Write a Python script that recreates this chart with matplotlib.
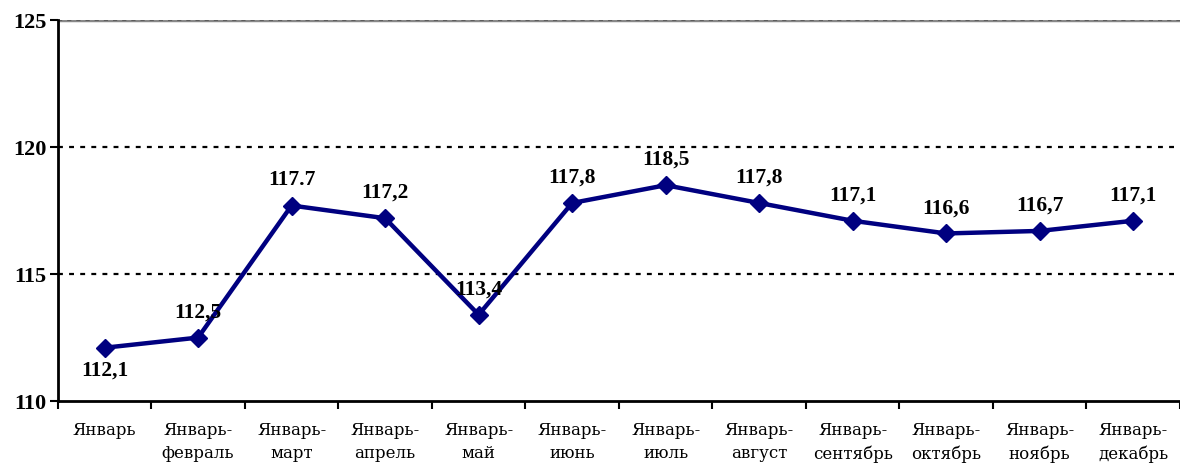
import numpy as np
import matplotlib.pyplot as plt

# Данные
months = ["Январь", "Январь-\nфевраль", "Январь-\nмарт", "Январь-\nапрель", "Январь-\nмай",
          "Январь-\nиюнь", "Январь-\nиюль", "Январь-\nавгуст", "Январь-\nсентябрь",
          "Январь-\nоктябрь", "Январь-\nноябрь", "Январь-\nдекабрь"]
values = [112.1, 112.5, 117.7, 117.2, 113.4, 117.8, 118.5, 117.8, 117.1, 116.6, 116.7, 117.1]
labels = ["112,1", "112,5", "117.7", "117,2", "113,4", "117,8", "118,5", "117,8",
          "117,1", "116,6", "116,7", "117,1"]

plt.rcParams['font.family'] = ['Liberation Serif', 'DejaVu Serif']

fig = plt.figure(figsize=(11.8, 4.68), dpi=100)
ax = fig.add_axes([0.049, 0.143, 0.951, 0.814])

x = np.arange(len(months))

# Сетка
for yv in [115, 120]:
    ax.axhline(yv, color="black", linestyle=(0, (2.2, 2.8)), linewidth=1.6, zorder=1)
ax.axhline(125, color="#888888", linewidth=2.5, zorder=1)
ax.axhline(125, color="#555555", linestyle=(0, (2.5, 3)), linewidth=1.2, zorder=1)

ax.plot(x, values, color="#000080", linewidth=3.2, marker="D", markersize=9.5, zorder=3)

for i, (v, lab) in enumerate(zip(values, labels)):
    if i == 0:
        ax.annotate(lab, (i, v), xytext=(0, -9), textcoords="offset points",
                    ha="center", va="top", fontsize=15.5, fontweight="bold")
    else:
        ax.annotate(lab, (i, v), xytext=(0, 11), textcoords="offset points",
                    ha="center", va="bottom", fontsize=15.5, fontweight="bold")

ax.set_xlim(-0.5, len(months) - 0.5)
ax.set_ylim(110, 125)
ax.set_yticks([110, 115, 120, 125])
ax.set_yticklabels(["110", "115", "120", "125"], fontsize=16, fontweight="bold")

ax.set_xticks(np.arange(-0.5, len(months), 1.0))
ax.set_xticklabels([])
ax.set_xticks(x, minor=True)
ax.set_xticklabels(months, minor=True, fontsize=12, linespacing=1.5,
                   family=['DejaVu Serif'])
ax.tick_params(axis="x", which="minor", length=0, pad=15)
ax.tick_params(axis="x", which="major", length=6, width=1.5, direction="out")
ax.tick_params(axis="y", length=6, width=1.5, direction="out", pad=2)

for s in ["top", "right"]:
    ax.spines[s].set_visible(False)
ax.spines["left"].set_linewidth(2)
ax.spines["bottom"].set_linewidth(2)

plt.savefig("out.png", dpi=100)
plt.close()
